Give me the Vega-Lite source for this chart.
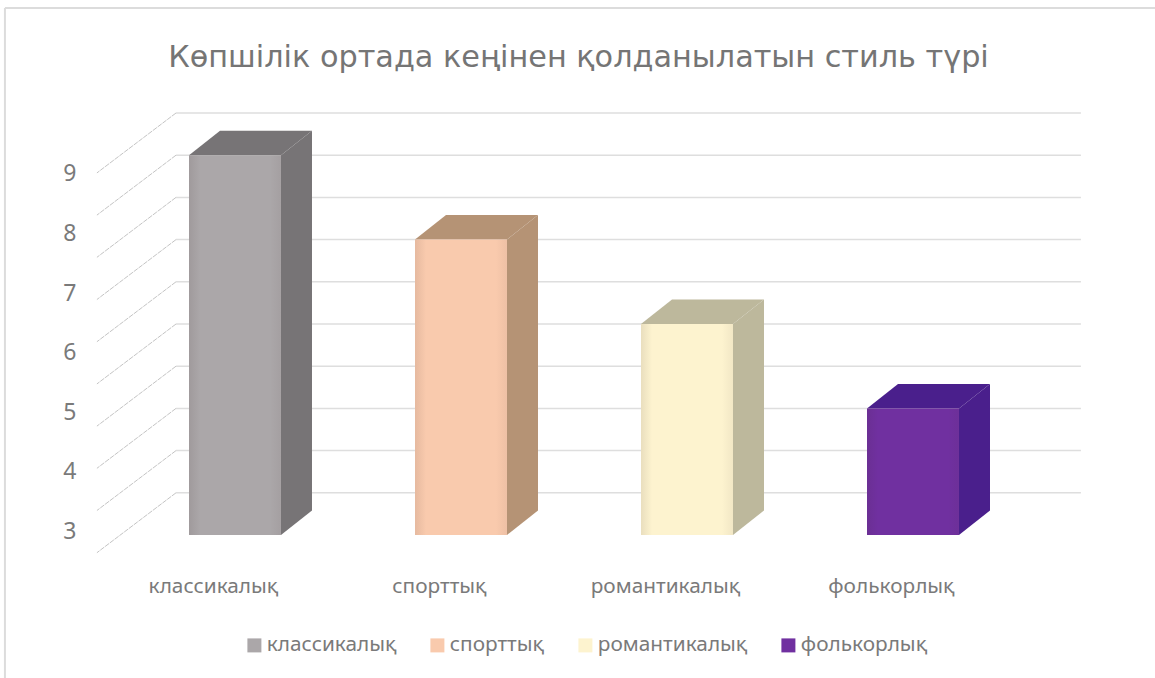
{"$schema":"https://vega.github.io/schema/vega-lite/v6.json","width":1155,"height":678,"padding":0,"autosize":{"type":"none"},"background":"white","view":{"stroke":null},
"title":{"text":"Көпшілік ортада кеңінен қолданылатын стиль түрі","font":"DejaVu Sans","fontSize":30.3,"fontWeight":"normal","color":"#757575","anchor":"middle","frame":"group","offset":-73,"dx":1},
"datasets":{"bars":[{"category":"классикалық","value":9},{"category":"спорттық","value":7},{"category":"романтикалық","value":5},{"category":"фолькорлық","value":3}],
"grid":[{"level":1},{"level":2},{"level":3},{"level":4},{"level":5},{"level":6},{"level":7},{"level":8},{"level":9},{"level":10}],
"ticks":[{"tick":3},{"tick":4},{"tick":5},{"tick":6},{"tick":7},{"tick":8},{"tick":9}]},
"resolve":{"scale":{"y":"independent"},"axis":{"y":"independent"}},
"layer":[
{"layer":[
{"data":{"values":[{"a":-1.018,"b":4.0708,"c":12.488,"d":12.488},{"a":-1.018,"b":-1.018,"c":12.488,"d":-3.3886}]},"mark":{"type":"rule","color":"#dcdcdc","strokeWidth":2},
"encoding":{"x":{"field":"a","type":"quantitative","title":null,"scale":{"domain":[-1.0398,4.0708],"nice":false,"zero":false},"axis":{"values":[0,1,2,3],"labelExpr":"['классикалық','спорттық','романтикалық','фолькорлық'][datum.value]","labelOffset":-22,"orient":"bottom","offset":-92,"labelPadding":0,"ticks":false,"domain":false,"grid":false,"labelFont":"Noto Sans","labelFontSize":20.8,"labelColor":"#7a7a7a","labelBaseline":"middle","labelFlush":false,"labelOverlap":false,"title":null}},"x2":{"field":"b"},"y":{"field":"c","type":"quantitative","title":null,"axis":null,"scale":{"domain":[-3.3886,12.6777],"nice":false,"zero":false}},"y2":{"field":"d"}}},
{"data":{"name":"grid"},"transform":[{"calculate":"-0.261","as":"x0"},{"calculate":"3.743","as":"x1"}],"mark":{"type":"rule","color":"#dedede","strokeWidth":1.5},
"encoding":{"x":{"field":"x0","type":"quantitative","title":null,"scale":{"domain":[-1.0398,4.0708],"nice":false,"zero":false}},"x2":{"field":"x1"},"y":{"field":"level","type":"quantitative","title":null,"axis":null,"scale":{"domain":[-3.3886,12.6777],"nice":false,"zero":false}}}},
{"data":{"name":"grid"},"transform":[{"calculate":"-0.261","as":"x0"},{"calculate":"-0.611","as":"x1"},{"calculate":"datum.level-1.42","as":"y1"}],"mark":{"type":"rule","color":"#c4c4c4","strokeWidth":1,"strokeDash":[5,1]},
"encoding":{"x":{"field":"x0","type":"quantitative","title":null,"scale":{"domain":[-1.0398,4.0708],"nice":false,"zero":false}},"x2":{"field":"x1"},"y":{"field":"level","type":"quantitative","title":null,"axis":null,"scale":{"domain":[-3.3886,12.6777],"nice":false,"zero":false}},"y2":{"field":"y1"}}},
{"data":{"name":"bars"},"transform":[{"calculate":"indexof(['классикалық','спорттық','романтикалық','фолькорлық'],datum.category)","as":"idx"},{"calculate":"[0,1]","as":"t"},{"flatten":["t"]},{"calculate":"datum.idx+0.2035+datum.t*0.1372","as":"xs"},{"calculate":"datum.t*0.58","as":"yb"},{"calculate":"datum.value+datum.t*0.58","as":"yt"}],"mark":{"type":"area","orient":"vertical"},
"encoding":{"x":{"field":"xs","type":"quantitative","title":null,"scale":{"domain":[-1.0398,4.0708],"nice":false,"zero":false}},"y":{"field":"yb","type":"quantitative","title":null,"axis":null,"scale":{"domain":[-3.3886,12.6777],"nice":false,"zero":false}},"y2":{"field":"yt"},"detail":{"field":"category"},
"color":{"field":"category","type":"nominal","legend":null,"scale":{"domain":["фолькорлық","романтикалық","спорттық","классикалық"],"range":["#4a1f8c","#bdb89c","#b59375","#777476"]}}}},
{"data":{"name":"bars"},"transform":[{"calculate":"indexof(['классикалық','спорттық','романтикалық','фолькорлық'],datum.category)","as":"idx"},{"calculate":"[0,1]","as":"t"},{"flatten":["t"]},{"calculate":"datum.value+datum.t*0.58","as":"yv"},{"calculate":"datum.idx-0.2035+datum.t*0.1372","as":"xa"},{"calculate":"datum.idx+0.2035+datum.t*0.1372","as":"xb"}],"mark":{"type":"area","orient":"horizontal"},
"encoding":{"y":{"field":"yv","type":"quantitative","title":null,"axis":null,"scale":{"domain":[-3.3886,12.6777],"nice":false,"zero":false}},"x":{"field":"xa","type":"quantitative","title":null,"scale":{"domain":[-1.0398,4.0708],"nice":false,"zero":false}},"x2":{"field":"xb"},"detail":{"field":"category"},
"color":{"field":"category","type":"nominal","legend":null,"scale":{"domain":["фолькорлық","романтикалық","спорттық","классикалық"],"range":["#4a1f8c","#bdb89c","#b59375","#777476"]}}}},
{"data":{"name":"bars"},"transform":[{"calculate":"indexof(['классикалық','спорттық','романтикалық','фолькорлық'],datum.category)","as":"idx"},{"calculate":"datum.idx-0.2035","as":"xa"},{"calculate":"datum.idx+0.2035","as":"xb"},{"calculate":"0","as":"y0"}],"mark":{"type":"rect","strokeWidth":1},
"encoding":{"x":{"field":"xa","type":"quantitative","title":null,"scale":{"domain":[-1.0398,4.0708],"nice":false,"zero":false}},"x2":{"field":"xb"},"y":{"field":"value","type":"quantitative","title":null,"axis":null,"scale":{"domain":[-3.3886,12.6777],"nice":false,"zero":false}},"y2":{"field":"y0"},
"fill":{"field":"category","type":"nominal","title":null,"scale":{"domain":["классикалық","спорттық","романтикалық","фолькорлық"],"range":["#aba7a9","#f9caad","#fdf3cf","#7030a0"]},"legend":{"orient":"none","legendX":244,"legendY":635,"direction":"horizontal","columns":4,"title":null,"symbolType":"square","symbolSize":196,"symbolStrokeWidth":0,"symbolOpacity":1,"labelFont":"Noto Sans","labelFontSize":20.8,"labelColor":"#7a7a7a","labelOffset":2,"columnPadding":30,"labelLimit":300,"gridAlign":"none"}}}},
{"data":{"name":"bars"},"transform":[{"calculate":"indexof(['классикалық','спорттық','романтикалық','фолькорлық'],datum.category)","as":"idx"},{"calculate":"datum.idx-0.2035","as":"xa"},{"calculate":"datum.idx+0.2035","as":"xb"},{"calculate":"0","as":"y0"}],"mark":{"type":"rect","fill":{"gradient":"linear","x1":0,"y1":0,"x2":1,"y2":0,"stops":[{"offset":0,"color":"rgba(60,40,40,0.10)"},{"offset":0.12,"color":"rgba(60,40,40,0)"},{"offset":0.88,"color":"rgba(60,40,40,0)"},{"offset":1,"color":"rgba(60,40,40,0.06)"}]}},
"encoding":{"x":{"field":"xa","type":"quantitative","title":null,"scale":{"domain":[-1.0398,4.0708],"nice":false,"zero":false}},"x2":{"field":"xb"},"y":{"field":"value","type":"quantitative","title":null,"axis":null,"scale":{"domain":[-3.3886,12.6777],"nice":false,"zero":false}},"y2":{"field":"y0"}}}
]},
{"data":{"name":"ticks"},"mark":{"type":"rule","opacity":0},"encoding":{"y":{"field":"tick","type":"quantitative","title":null,"scale":{"domain":[0.53,11.924],"nice":false,"zero":false},"axis":{"orient":"left","offset":-80,"values":[3,4,5,6,7,8,9],"format":"d","ticks":false,"domain":false,"grid":false,"labelPadding":4,"labelFont":"Noto Sans","labelFontSize":23,"labelColor":"#7a7a7a","title":null}}}}
]}
